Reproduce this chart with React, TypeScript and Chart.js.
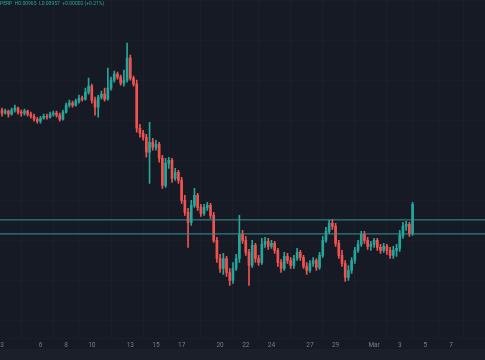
import React, { useEffect, useRef } from 'react';
import { Chart, registerables } from 'chart.js';

Chart.register(...registerables);

// Time axis: day offsets of the tick marks and their labels
const tickDays = [0, 3, 5, 7, 10, 12, 14, 17, 19, 21, 24, 26, 29, 31, 33, 35];
const tickLabels = ['3', '6', '8', '10', '13', '15', '17', '20', '22', '24', '27', '29', 'Mar', '3', '5', '7'];

// Candles (6h periods, 4 per day), price in chart units
const opens = [
  250, 247, 249, 246, 250, 252, 248, 247, 249, 246, 244, 241, 239, 242, 244, 243,
  246, 247, 245, 241, 248, 255, 257, 255, 259, 262, 261, 268, 274, 260, 253, 263,
  266, 261, 272, 280, 286, 283, 277, 280, 302, 282, 276, 232, 227, 223, 208, 218,
  213, 216, 202, 175, 197, 200, 182, 188, 180, 160, 148, 138, 155, 165, 153, 147,
  153, 155, 145, 120, 102, 92, 102, 88, 80, 92, 102, 126, 120, 108, 95, 115,
  102, 98, 116, 119, 114, 117, 110, 98, 92, 104, 100, 95, 102, 108, 103, 94,
  90, 97, 100, 93, 105, 120, 129, 137, 134, 117, 105, 97, 83, 90, 100, 110,
  116, 126, 120, 114, 116, 120, 113, 110, 114, 110, 105, 110, 112, 125, 134, 136,
  127,
];
const highs = [
  252, 251, 250, 252, 255, 253, 250, 251, 250, 248, 246, 243, 244, 246, 246, 248,
  249, 249, 247, 250, 257, 260, 259, 261, 265, 264, 272, 282, 276, 263, 265, 269,
  272, 292, 283, 289, 288, 285, 290, 317, 305, 284, 280, 236, 230, 226, 238, 222,
  220, 218, 205, 202, 203, 202, 192, 190, 183, 165, 152, 160, 172, 167, 156, 156,
  158, 157, 148, 123, 106, 107, 104, 92, 98, 106, 145, 130, 124, 111, 120, 117,
  105, 122, 123, 122, 120, 119, 112, 101, 108, 107, 103, 105, 112, 110, 105, 98,
  100, 103, 102, 108, 124, 133, 140, 141, 137, 120, 110, 100, 95, 103, 113, 120,
  129, 129, 123, 119, 122, 122, 116, 117, 116, 113, 114, 116, 130, 138, 139, 138,
  158,
];
const lows = [
  244, 246, 243, 245, 248, 246, 244, 245, 244, 242, 239, 237, 237, 241, 241, 242,
  244, 243, 239, 240, 247, 253, 253, 254, 257, 259, 260, 266, 257, 245, 243, 261,
  259, 260, 270, 278, 281, 275, 274, 278, 280, 274, 228, 223, 220, 203, 177, 210,
  210, 198, 172, 173, 192, 178, 180, 177, 157, 145, 113, 135, 153, 150, 144, 145,
  150, 142, 118, 98, 88, 86, 84, 75, 77, 90, 98, 117, 105, 75, 93, 98,
  95, 96, 113, 111, 112, 107, 94, 88, 90, 97, 92, 92, 100, 100, 92, 86,
  88, 94, 90, 91, 103, 118, 127, 131, 114, 102, 94, 79, 80, 87, 97, 108,
  114, 117, 111, 110, 113, 110, 107, 108, 106, 102, 102, 104, 109, 122, 130, 124,
  125,
];
const closes = [
  247, 249, 246, 250, 252, 248, 247, 249, 246, 244, 241, 239, 242, 244, 243, 246,
  247, 245, 241, 248, 255, 257, 255, 259, 262, 261, 268, 274, 260, 253, 263, 266,
  261, 272, 280, 286, 283, 277, 280, 302, 282, 276, 232, 227, 223, 208, 218, 213,
  216, 202, 175, 197, 200, 182, 188, 180, 160, 148, 138, 155, 165, 153, 147, 153,
  155, 145, 120, 102, 92, 102, 88, 80, 92, 102, 126, 120, 108, 95, 115, 102,
  98, 116, 119, 114, 117, 110, 98, 92, 104, 100, 95, 102, 108, 103, 94, 90,
  97, 100, 93, 105, 120, 129, 137, 134, 117, 105, 97, 83, 90, 100, 110, 116,
  126, 120, 114, 116, 120, 113, 110, 114, 110, 105, 110, 112, 125, 134, 136, 127,
  156,
];

// Horizontal price levels
const levelUpper = 140.5;
const levelLower = 126.5;

const legendText = 'PERP  H0.00965  L0.00957  +0.00002 (+0.21%)';

const UP = '#26a69a';
const DOWN = '#ef5350';
const LEVEL = '#35959a';
const BG = '#161a25';

export default function App() {
  const ref = useRef<HTMLCanvasElement>(null);

  useEffect(() => {
    if (!ref.current) return;
    const candleDays = closes.map((_, i) => i / 4);
    const colors = closes.map((c, i) => (c >= opens[i] ? UP : DOWN));
    const bodies = closes.map((c, i) => ({ x: candleDays[i], y: [opens[i], c] }));
    const wicks = closes.map((_, i) => ({ x: candleDays[i], y: [lows[i], highs[i]] }));
    const xMin = -0.156;
    const xMax = 37.645;

    const bgPlugin = {
      id: 'bgPlugin',
      beforeDraw(chart: any) {
        const { ctx, width, height } = chart;
        ctx.save();
        ctx.fillStyle = BG;
        ctx.fillRect(0, 0, width, height);
        ctx.fillStyle = '#1b1f2a';
        ctx.fillRect(0, 349, width, height - 349);
        ctx.restore();
      },
    };
    const headerPlugin = {
      id: 'headerPlugin',
      afterDraw(chart: any) {
        const { ctx } = chart;
        ctx.save();
        ctx.font = '5px Roboto, "DejaVu Sans", sans-serif';
        ctx.fillStyle = UP;
        ctx.textBaseline = 'middle';
        ctx.textAlign = 'left';
        ctx.fillText(legendText, 0, 4);
        ctx.restore();
      },
    };

    const chart = new Chart(ref.current, {
      type: 'bar',
      data: {
        datasets: [
          {
            type: 'line',
            data: [{ x: xMin - 1, y: levelUpper }, { x: xMax + 1, y: levelUpper }],
            borderColor: LEVEL,
            borderWidth: 1,
            pointRadius: 0,
            order: 0,
          } as any,
          {
            type: 'line',
            data: [{ x: xMin - 1, y: levelLower }, { x: xMax + 1, y: levelLower }],
            borderColor: LEVEL,
            borderWidth: 1,
            pointRadius: 0,
            order: 0,
          } as any,
          {
            type: 'bar',
            data: bodies as any,
            backgroundColor: colors,
            barThickness: 2,
            grouped: false,
            minBarLength: 1,
            order: 1,
          } as any,
          {
            type: 'bar',
            data: wicks as any,
            backgroundColor: colors,
            barThickness: 1,
            grouped: false,
            order: 2,
          } as any,
        ],
      },
      options: {
        animation: false,
        responsive: false,
        devicePixelRatio: 1,
        layout: { padding: { left: 0, right: 0, top: 0, bottom: 8 } },
        plugins: {
          legend: { display: false },
          tooltip: { enabled: false },
          title: { display: false },
        },
        scales: {
          x: {
            type: 'linear',
            min: xMin,
            max: xMax,
            offset: false,
            border: { display: false },
            grid: { color: 'rgba(42,46,57,0.25)', drawTicks: false },
            afterBuildTicks: (scale: any) => {
              scale.ticks = tickDays.map((v) => ({ value: v }));
            },
            afterFit: (scale: any) => {
              scale.paddingLeft = 0;
              scale.paddingRight = 0;
            },
            ticks: {
              autoSkip: false,
              maxRotation: 0,
              padding: 3,
              color: '#7a7d86',
              font: { size: 6.5, family: 'Roboto, "DejaVu Sans", sans-serif' },
              callback: (value: any) => {
                const idx = tickDays.indexOf(Number(value));
                return idx >= 0 ? tickLabels[idx] : '';
              },
            },
          },
          y: {
            type: 'linear',
            min: 22.4,
            max: 360,
            border: { display: false },
            grid: { color: 'rgba(42,46,57,0.18)', drawTicks: false },
            ticks: { display: false, stepSize: 40 },
          },
        },
      } as any,
      plugins: [bgPlugin, headerPlugin],
    });
    return () => chart.destroy();
  }, []);

  return (
    <div style={{ position: 'fixed', left: 0, top: 0, width: 485, height: 360, background: BG }}>
      <canvas ref={ref} width={485} height={360} style={{ display: 'block', width: 485, height: 360 }} />
    </div>
  );
}
